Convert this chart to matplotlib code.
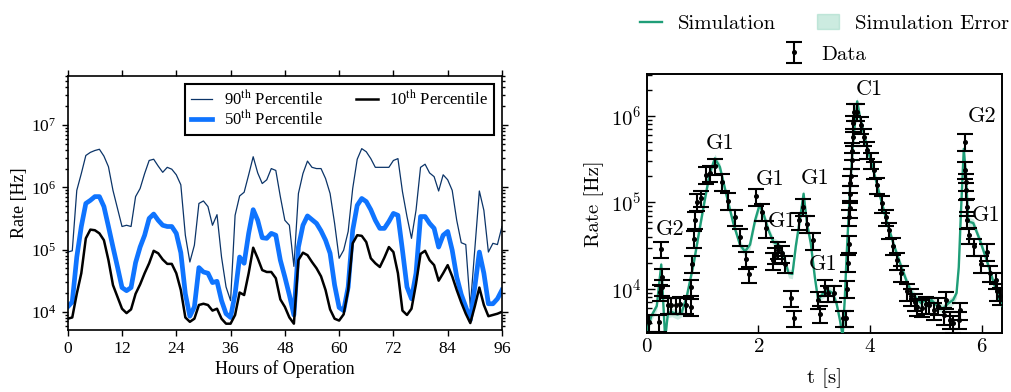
import numpy as np
import matplotlib
matplotlib.use("Agg")
import matplotlib.pyplot as plt
from matplotlib.lines import Line2D
from matplotlib.patches import Patch
from matplotlib.font_manager import FontProperties

plt.rcParams['axes.formatter.use_mathtext'] = True

# ---------------- Left panel data (log10 of rate in Hz, hourly) ----------------
hours = np.arange(97)
p90_log10 = [4.96,4.98,5.95,6.22,6.51,6.56,6.59,6.61,6.50,6.33,
             5.95,5.66,5.37,5.39,5.37,5.85,5.98,6.22,6.43,6.45,
             6.34,6.24,6.32,6.29,6.20,6.04,5.23,4.80,5.07,5.74,
             5.78,5.69,5.39,5.56,4.88,4.40,4.18,5.55,5.86,5.92,
             6.20,6.49,6.23,6.06,6.12,6.30,6.27,5.85,5.47,5.39,
             4.73,5.90,6.22,6.42,6.32,6.30,6.30,6.14,5.90,5.42,
             4.86,4.99,5.29,5.98,6.45,6.62,6.57,6.46,6.32,6.32,
             6.32,6.32,6.43,6.46,5.93,5.53,5.18,5.63,6.32,6.37,
             6.23,6.17,5.94,6.20,6.12,5.95,5.47,5.11,5.08,4.08,
             5.01,5.94,5.63,4.96,5.10,5.08,5.37]
p50_log10 = [4.08,4.16,4.88,5.37,5.74,5.79,5.85,5.85,5.69,5.37,
             5.04,4.72,4.39,4.34,4.39,4.79,5.04,5.23,5.50,5.57,
             5.47,5.39,5.37,5.37,5.26,4.95,4.29,3.93,4.08,4.71,
             4.64,4.62,4.47,4.49,4.18,3.97,3.91,4.29,4.88,4.78,
             5.26,5.64,5.47,5.19,5.18,5.26,5.23,4.83,4.56,4.27,
             3.95,5.04,5.39,5.54,5.48,5.42,5.30,5.15,4.94,4.43,
             4.07,4.02,4.40,5.31,5.71,5.82,5.77,5.64,5.47,5.34,
             5.34,5.45,5.58,5.55,4.99,4.40,4.21,4.62,5.53,5.53,
             5.42,5.34,5.04,5.23,5.29,4.99,4.56,4.28,4.08,3.87,
             4.40,4.96,4.62,4.13,4.13,4.21,4.35]
p10_log10 = [3.89,3.91,4.29,4.62,5.18,5.32,5.31,5.26,5.15,4.83,
             4.43,4.24,4.05,3.98,4.04,4.29,4.44,4.62,4.78,4.98,
             4.94,4.84,4.77,4.77,4.62,4.35,3.91,3.84,3.89,4.11,
             4.13,4.11,4.02,4.05,3.89,3.81,3.81,3.95,4.31,4.27,
             4.62,5.03,4.86,4.67,4.64,4.64,4.54,4.20,4.08,3.91,
             3.81,4.83,4.95,4.91,4.80,4.70,4.57,4.35,4.04,3.89,
             3.86,3.96,4.35,5.10,5.23,5.22,5.12,4.86,4.78,4.72,
             4.87,5.04,4.96,4.62,4.02,3.95,4.05,4.45,4.93,4.98,
             4.83,4.75,4.50,4.62,4.75,4.57,4.35,4.15,3.97,3.82,
             4.09,4.39,4.11,3.93,3.95,3.97,4.00]
left_xticks = [0, 12, 24, 36, 48, 60, 72, 84, 96]
left_labels = [r'90$^{\rm th}$ Percentile', r'50$^{\rm th}$ Percentile', r'10$^{\rm th}$ Percentile']

# ---------------- Right panel data ----------------
sim_t = [0.00,0.08,0.18,0.26,0.33,0.38,0.45,0.55,0.63,0.72,0.84,0.955,1.04,1.13,1.22,1.31,
         1.43,1.55,1.67,1.76,1.85,1.94,2.02,2.09,2.18,2.27,2.36,2.45,2.54,2.61,2.67,2.75,
         2.81,2.87,2.94,3.01,3.07,3.15,3.25,3.33,3.40,3.46,3.51,3.55,3.58,3.64,3.70,3.77,
         3.82,3.94,4.06,4.18,4.30,4.42,4.54,4.66,4.75,4.83,4.92,4.98,5.04,5.10,5.19,5.31,
         5.40,5.49,5.55,5.59,5.63,5.68,5.72,5.76,5.85,5.97,6.09,6.21,6.33,6.37]
sim_log10 = [3.50,3.68,3.80,4.28,3.42,3.72,3.73,3.70,3.73,3.92,4.29,4.72,5.03,5.34,5.51,5.41,
             5.08,4.76,4.51,4.43,4.51,4.79,4.97,4.87,4.68,4.54,4.51,4.39,4.18,4.17,4.49,4.83,
             5.10,4.76,4.52,4.14,3.87,3.94,3.98,3.95,3.83,3.64,3.45,3.91,4.37,5.14,5.72,6.17,
             5.99,5.66,5.37,5.07,4.78,4.52,4.29,4.08,3.95,3.89,3.83,3.87,3.81,3.87,3.81,3.77,
             3.83,3.87,3.95,4.25,4.90,5.62,5.30,4.78,4.76,4.56,4.33,4.08,3.85,3.80]
sim_rel_err = 0.12

data_t = [0.04,0.22,0.23,0.26,0.27,0.28,0.38,0.43,0.52,0.60,0.70,0.79,0.79,0.81,0.84,0.86,
          0.90,0.98,1.06,1.14,1.22,1.34,1.46,1.58,1.67,1.77,1.83,1.96,2.06,2.14,2.26,2.30,
          2.36,2.42,2.48,2.58,2.63,2.72,2.80,2.88,2.97,3.07,3.10,3.19,3.25,3.36,3.52,3.57,
          3.59,3.61,3.62,3.63,3.64,3.645,3.65,3.66,3.67,3.68,3.69,3.70,3.72,3.77,3.83,3.89,
          3.95,4.01,4.07,4.13,4.22,4.28,4.34,4.42,4.49,4.56,4.66,4.74,4.80,4.85,4.93,5.00,
          5.06,5.15,5.22,5.33,5.36,5.44,5.49,5.59,5.62,5.70,5.71,5.715,5.72,5.73,5.745,5.77,
          5.86,5.98,6.09,6.15,6.25,6.27,6.33]
data_log10 = [3.61,3.61,3.96,4.46,4.14,4.02,3.81,3.81,3.81,3.82,3.81,3.79,4.02,4.29,4.58,4.80,
              5.01,5.05,5.32,5.34,5.42,5.24,5.02,4.83,4.60,4.34,4.17,5.07,4.89,4.70,4.33,4.39,
              4.45,4.41,4.29,3.89,3.66,4.79,4.95,4.75,4.56,3.87,3.71,4.02,3.95,3.95,3.66,3.66,
              4.00,4.30,4.52,4.83,4.93,5.10,5.22,5.30,5.49,5.60,5.76,5.92,6.05,6.05,5.90,5.76,
              5.61,5.49,5.38,5.20,4.99,4.83,4.68,4.50,4.33,4.18,3.97,3.91,3.85,3.79,3.78,3.82,
              3.81,3.75,3.80,3.69,3.87,3.64,3.60,3.64,3.75,5.70,5.38,5.24,5.14,4.95,4.80,4.62,
              4.49,4.29,4.43,4.18,4.10,3.97,3.92]
data_rel_err = 0.22

annot_text = ['G2', 'G1', 'G1', 'G1', 'G1', 'G1', 'C1', 'G2', 'G1']
annot_t = [0.42, 1.32, 2.21, 2.42, 3.01, 3.16, 3.99, 6.00, 6.08]
annot_log10 = [4.69, 5.68, 5.27, 4.78, 5.28, 4.28, 6.31, 6.00, 4.85]

# ---------------- Figure ----------------
fig = plt.figure(figsize=(10.11, 3.92), dpi=100)
ax1 = fig.add_axes([0.067, 0.158, 0.4295, 0.648])
ax2 = fig.add_axes([0.6397, 0.1497, 0.3517, 0.6615])

serif = 'Liberation Serif'
cm = 'cmr10'

# Left panel
c90, c50, c10 = '#0b3468', '#0f74ff', '#000000'
ax1.plot(hours, 10**np.array(p90_log10), color=c90, lw=0.9, label=left_labels[0])
ax1.plot(hours, 10**np.array(p50_log10), color=c50, lw=3.4, label=left_labels[1])
ax1.plot(hours, 10**np.array(p10_log10), color=c10, lw=1.8, label=left_labels[2])
ax1.set_yscale('log')
ax1.set_xlim(0, 96)
ax1.set_ylim(5.1e3, 6.1e7)
ax1.set_xticks(left_xticks)
ax1.tick_params(which='both', direction='out', top=True, right=True,
                labelsize=12.5, labelfontfamily=serif, width=1.0)
ax1.tick_params(which='major', length=4.5)
ax1.tick_params(which='minor', length=2.5)
for s in ax1.spines.values():
    s.set_linewidth(1.2)
ax1.set_xlabel('Hours of Operation', fontsize=13, family=serif, labelpad=2)
ax1.set_ylabel('Rate [Hz]', fontsize=13, family=serif, labelpad=2)
lp = FontProperties(family=serif, size=12, math_fontfamily='stix')
leg = ax1.legend(loc='upper right', bbox_to_anchor=(0.982, 0.969), borderaxespad=0,
                 ncol=2, prop=lp, fancybox=False, framealpha=1, edgecolor='black',
                 handlelength=1.3, handletextpad=0.7, columnspacing=2.0,
                 labelspacing=0.0, borderpad=0.35)
leg.get_frame().set_linewidth(1.5)

# Right panel
green = '#1f9e78'
band = '#8fd3bc'
st = np.array(sim_t)
sv = 10**np.array(sim_log10)
ax2.fill_between(st, sv*(1-sim_rel_err), sv*(1+sim_rel_err), color=band, alpha=0.45, lw=0)
ax2.plot(st, sv, color=green, lw=1.7, zorder=3)
dv = 10**np.array(data_log10)
eb = ax2.errorbar(data_t, dv, yerr=dv*data_rel_err, fmt='o', ms=2.6, color='black',
                  ecolor='black', elinewidth=1.5, capsize=5.8, capthick=1.5, zorder=4)
ax2.set_yscale('log')
ax2.set_xlim(0, 6.37)
ax2.set_ylim(3.04e3, 3.07e6)
ax2.set_xticks([0, 2, 4, 6])
ax2.tick_params(which='both', direction='in', top=False, right=False,
                labelsize=15, labelfontfamily=cm, width=1.0)
ax2.tick_params(which='major', length=6)
ax2.tick_params(which='minor', length=3.5)
for s in ax2.spines.values():
    s.set_linewidth(1.4)
ax2.set_xlabel('t [s]', fontsize=15, family=cm, labelpad=9)
ax2.set_ylabel('Rate [Hz]', fontsize=15, family=cm, labelpad=5)
for txt, tx, ty in zip(annot_text, annot_t, annot_log10):
    ax2.text(tx, 10**ty, txt, fontsize=16, family=cm, ha='center', va='center', zorder=5)

cx = 0.8155
h_sim = Line2D([], [], color=green, lw=1.7)
h_err = Patch(facecolor=band, edgecolor=band, alpha=0.45)
lprop = FontProperties(family=cm, size=15)
leg1 = ax2.legend([h_sim, h_err], ['Simulation', 'Simulation Error'], ncol=2,
                  loc='center', bbox_to_anchor=(cx, 0.94), bbox_transform=fig.transFigure,
                  frameon=False, prop=lprop, handlelength=1.05, handletextpad=0.75,
                  columnspacing=2.0, borderaxespad=0, borderpad=0)
ax2.add_artist(leg1)
leg2 = ax2.legend([eb], ['Data'], loc='center', bbox_to_anchor=(cx, 0.861),
                  bbox_transform=fig.transFigure, frameon=False, prop=lprop,
                  handlelength=1.05, handletextpad=0.75, borderaxespad=0, borderpad=0)

fig.savefig('out.png', dpi=100)
